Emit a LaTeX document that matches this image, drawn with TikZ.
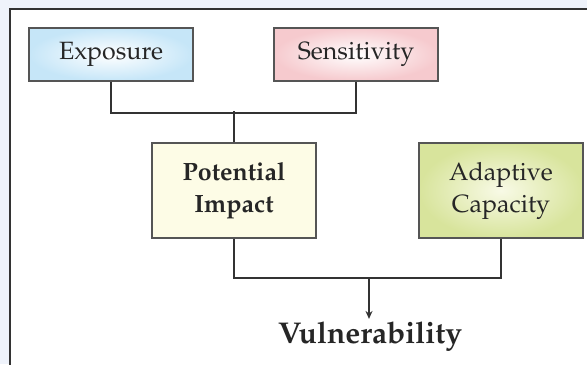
\documentclass[tikz,border=0pt]{standalone}
\usepackage[T1]{fontenc}
\usepackage{mathpazo}
\usetikzlibrary{arrows.meta}

\definecolor{pagebg}{HTML}{EFF3FB}
\definecolor{framec}{HTML}{333333}
\definecolor{boxline}{HTML}{555555}
\definecolor{expblue}{HTML}{C6E6F8}
\definecolor{senpink}{HTML}{F6CACE}
\definecolor{impcream}{HTML}{FDFCE6}
\definecolor{adagreen}{HTML}{D8E49C}
\definecolor{adalight}{HTML}{F8FAE6}

\tikzset{
  box/.style={draw=boxline,line width=0.6pt,minimum width=82pt,align=center,
    font=\fontsize{12.5}{16}\selectfont,text=black!85},
  link/.style={draw=framec,line width=0.9pt}
}

\begin{document}
\begin{tikzpicture}[x=0.5pt,y=-0.5pt]
\useasboundingbox (0,0) rectangle (587,364);
\fill[pagebg] (0,0) rectangle (587,364);
\begin{scope}
\clip (0,0) rectangle (587,364);
\draw[framec,fill=white,line width=1.2pt] (10,9) rectangle (600,380);
\end{scope}
% top row
\node[box,minimum height=26.5pt,inner color=white,outer color=expblue] (exposure) at (111,54.5) {Exposure};
\node[box,minimum height=26.5pt,inner color=white,outer color=senpink] (sensitivity) at (356,54.5) {Sensitivity};
% middle row
\node[box,minimum height=47.5pt,fill=impcream,font=\fontsize{12.5}{16}\selectfont\bfseries] (impact) at (234,190.5) {Potential\\Impact};
\node[box,minimum height=47.5pt,inner color=adalight,outer color=adagreen] (adaptive) at (501,190.5) {Adaptive\\Capacity};
% result
\node[font=\fontsize{15}{18}\selectfont\bfseries,text=black!85,inner sep=1pt] (vuln) at (370,336) {Vulnerability};
\coordinate (merge) at (369,277);
% connectors
\draw[link] (exposure.south) -- ++(0,31) -| (sensitivity.south);
\draw[link] (impact.north) -- ++(0,-31);
\draw[link] (impact.south) -- ++(0,39) -| (adaptive.south);
\draw[link,-{Stealth[length=4pt,width=3.5pt]}] (merge) -- (merge |- vuln.north);
\end{tikzpicture}
\end{document}
